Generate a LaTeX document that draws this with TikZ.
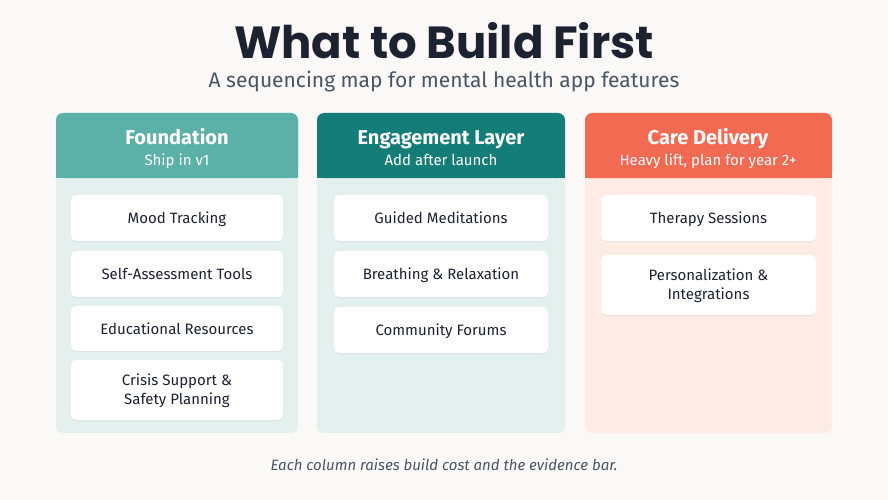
\documentclass[tikz,border=0pt]{standalone}
\usepackage{fontspec}
\setmainfont{Fira Sans}
\newfontfamily\titlefont{Poppins}
\usetikzlibrary{shadows}
\definecolor{bg}{HTML}{FAF9F7}
\definecolor{hA}{HTML}{5BB0A8}
\definecolor{hB}{HTML}{157D78}
\definecolor{hC}{HTML}{F36A53}
\definecolor{bA}{HTML}{E4F0EE}
\definecolor{bC}{HTML}{FCECE5}
\definecolor{ink}{HTML}{1C2230}
\definecolor{sub}{HTML}{4A5564}
\begin{document}
\begin{tikzpicture}[x=1pt,y=-1pt,
  card/.style={fill=white,rounded corners=5pt,drop shadow={shadow xshift=0pt,shadow yshift=-1pt,opacity=0.12},font=\fontsize{15}{19}\selectfont,text=ink,align=center,execute at begin node=\strut,execute at end node=\strut},
  htitle/.style={text=white,font=\fontsize{20}{22}\selectfont\bfseries,execute at begin node=\strut},
  hsub/.style={text=white,font=\fontsize{15}{17}\selectfont,execute at begin node=\strut}]
\fill[bg] (0,0) rectangle (888,500);
\node[font=\titlefont\fontsize{45}{50}\selectfont\bfseries,text=ink] (title) at (444,41) {What to Build First};
\node[font=\fontsize{21}{24}\selectfont,text=sub,execute at begin node=\strut] (subtitle) at (444,83) {A sequencing map for mental health app features};
% columns
\foreach \xa/\xb/\hc/\bc [count=\i] in {56/298/hA/bA, 317/565/hB/bA, 585/832/hC/bC}{
  \fill[\bc,rounded corners=7pt] (\xa,113) rectangle (\xb,433);
  \fill[\hc,rounded corners=7pt] (\xa,113) rectangle (\xb,178);
  \fill[\hc] (\xa,160) rectangle (\xb,178);
}
\node[htitle] (hA) at (177,140) {Foundation};
\node[hsub] (sA) at (177,162) {Ship in v1};
\node[htitle] (hB) at (441,140) {Engagement Layer};
\node[hsub] (sB) at (441,162) {Add after launch};
\node[htitle] (hC) at (708,140) {Care Delivery};
\node[hsub] (sC) at (708,162) {Heavy lift, plan for year 2+};
% cards
\newcommand{\mycard}[6]{\fill[white,rounded corners=5pt,drop shadow={shadow xshift=0pt,shadow yshift=-1pt,opacity=0.12}] (#2,#4) rectangle (#3,#5);
  \node[font=\fontsize{15}{19}\selectfont,text=ink,align=center,execute at begin node=\strut,execute at end node=\strut,inner sep=0pt] (#1) at ({(#2+#3)/2},{(#4+#5)/2+2}) {#6};}
\mycard{a1}{71}{283}{195}{241}{Mood Tracking}
\mycard{a2}{71}{283}{251}{297}{Self-Assessment Tools}
\mycard{a3}{71}{283}{306}{351}{Educational Resources}
\mycard{a4}{71}{283}{360}{420}{Crisis Support \&\\Safety Planning}
\mycard{b1}{334}{548}{195}{241}{Guided Meditations}
\mycard{b2}{334}{548}{251}{297}{Breathing \& Relaxation}
\mycard{b3}{334}{548}{307}{353}{Community Forums}
\mycard{c1}{601}{816}{195}{241}{Therapy Sessions}
\mycard{c2}{601}{816}{255}{315}{Personalization \&\\Integrations}
\node[font=\fontsize{15}{18}\selectfont\itshape,text=sub] (foot) at (444,465) {Each column raises build cost and the evidence bar.};
\end{tikzpicture}
\end{document}
